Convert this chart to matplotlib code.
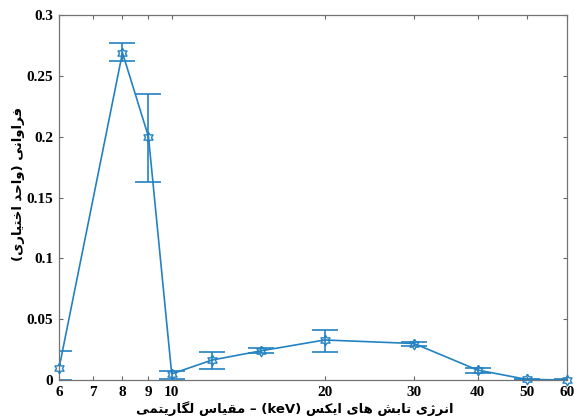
import numpy as np
import matplotlib
matplotlib.use("Agg")
import matplotlib.pyplot as plt

# energies (keV) and relative frequency with error limits
energy = [6, 8, 9, 10, 12, 15, 20, 30, 40, 50, 60]
freq = [0.0096, 0.269, 0.200, 0.005, 0.0164, 0.024, 0.0329, 0.030, 0.0082, 0.0005, 0.0]
upper = [0.024, 0.277, 0.2347, 0.0077, 0.0233, 0.0266, 0.041, 0.0315, 0.0101, 0.0012, 0.0005]
lower = [0.0, 0.262, 0.163, 0.001, 0.009, 0.0222, 0.0233, 0.0279, 0.006, 0.0, 0.0]

xticks = [6, 7, 8, 9, 10, 20, 30, 40, 50, 60]
yticks = [0, 0.05, 0.1, 0.15, 0.2, 0.25, 0.3]
ytick_labels = ["0", "0.05", "0.1", "0.15", "0.2", "0.25", "0.3"]

xlabel_fa = "انرژی تابش های ایکس"
xlabel_fa2 = "مقیاس لگاریتمی"
ylabel_fa = "فراوانی (واحد اختیاری)"

# minimal persian shaping (matplotlib has no text shaping)
FORMS = {
    'ا': ('\uFE8D', '\uFE8E', None, None),
    'ب': ('\uFE8F', '\uFE90', '\uFE91', '\uFE92'),
    'ت': ('\uFE95', '\uFE96', '\uFE97', '\uFE98'),
    'ح': ('\uFEA1', '\uFEA2', '\uFEA3', '\uFEA4'),
    'خ': ('\uFEA5', '\uFEA6', '\uFEA7', '\uFEA8'),
    'د': ('\uFEA9', '\uFEAA', None, None),
    'ر': ('\uFEAD', '\uFEAE', None, None),
    'ژ': ('\uFB8A', '\uFB8B', None, None),
    'س': ('\uFEB1', '\uFEB2', '\uFEB3', '\uFEB4'),
    'ش': ('\uFEB5', '\uFEB6', '\uFEB7', '\uFEB8'),
    'ف': ('\uFED1', '\uFED2', '\uFED3', '\uFED4'),
    'ق': ('\uFED5', '\uFED6', '\uFED7', '\uFED8'),
    '\u06A9': ('\uFB8E', '\uFB8F', '\uFB90', '\uFB91'),
    'گ': ('\uFB92', '\uFB93', '\uFB94', '\uFB95'),
    'ل': ('\uFEDD', '\uFEDE', '\uFEDF', '\uFEE0'),
    'م': ('\uFEE1', '\uFEE2', '\uFEE3', '\uFEE4'),
    'ن': ('\uFEE5', '\uFEE6', '\uFEE7', '\uFEE8'),
    'ه': ('\uFEE9', '\uFEEA', '\uFEEB', '\uFEEC'),
    'و': ('\uFEED', '\uFEEE', None, None),
    '\u06CC': ('\uFBFC', '\uFBFD', '\uFBFE', '\uFBFF'),
}


def shape(s):
    s = s.replace('\u064A', '\u06CC').replace('\u0643', '\u06A9')
    out = []
    for i, ch in enumerate(s):
        f = FORMS.get(ch)
        if f is None:
            out.append(ch)
            continue
        prev = s[i - 1] if i > 0 else ''
        nxt = s[i + 1] if i < len(s) - 1 else ''
        jp = prev in FORMS and FORMS[prev][2] is not None
        jn = f[2] is not None and nxt in FORMS
        if jp and jn:
            out.append(f[3])
        elif jp:
            out.append(f[1])
        elif jn:
            out.append(f[2])
        else:
            out.append(f[0])
    return ''.join(out)


def rtl(s):
    mirror = {'(': ')', ')': '('}
    return ''.join(mirror.get(c, c) for c in reversed(shape(s)))


# hexagram marker
ang_o = np.deg2rad(90 + 60 * np.arange(6))
ang_i = ang_o + np.deg2rad(30)
verts = []
for a, b in zip(ang_o, ang_i):
    verts.append((np.cos(a), np.sin(a)))
    verts.append((np.cos(b) / np.sqrt(3), np.sin(b) / np.sqrt(3)))
verts.append(verts[0])

blue = "#2382c2"
fig = plt.figure(figsize=(5.74, 4.17), dpi=100)
ax = fig.add_axes([0.1028, 0.0887, 0.885, 0.8753])

y = np.array(freq)
yerr = [y - np.array(lower), np.array(upper) - y]
ax.errorbar(energy, y, yerr=yerr, color=blue, lw=1.2, elinewidth=1.2,
            capsize=9.5, capthick=1.2)
# markers are not clipped at the axes edge
ax.plot(energy, freq, ls="none", marker=verts, ms=7.5, mfc="none",
        mec=blue, mew=1.0, clip_on=False, zorder=3)

ax.set_xscale("log")
ax.set_xlim(6, 60)
ax.set_ylim(0, 0.3)
ax.set_xticks(xticks)
ax.set_xticklabels([str(t) for t in xticks])
ax.minorticks_off()
ax.set_yticks(yticks)
ax.set_yticklabels(ytick_labels)
ax.tick_params(direction="in", top=True, right=True, length=3, width=0.8,
               color="0.4", pad=4)
for lab in ax.get_xticklabels() + ax.get_yticklabels():
    lab.set_fontfamily("Liberation Serif")
    lab.set_fontweight("bold")
    lab.set_fontsize(11)
for sp in ax.spines.values():
    sp.set_color("0.45")
    sp.set_linewidth(0.9)

xl = rtl(xlabel_fa2) + " \u2013 (keV) " + rtl(xlabel_fa)
ax.set_xlabel(xl, family=["DejaVu Sans", "Liberation Serif"], fontweight="bold",
              fontsize=9.5, va="center")
ax.xaxis.set_label_coords(0.465, -0.078)
ax.set_ylabel(rtl(ylabel_fa), family=["DejaVu Sans"], fontweight="bold",
              fontsize=9.5, va="center")
ax.yaxis.set_label_coords(-0.08, 0.537)

fig.savefig("out.png", dpi=100)
